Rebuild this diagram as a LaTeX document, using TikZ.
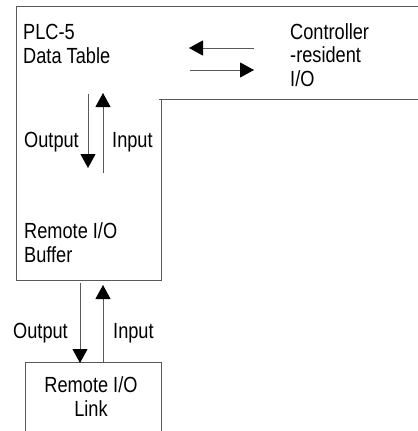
\documentclass[tikz,border=0pt]{standalone}
\usepackage{fontspec}
\setmainfont{Liberation Sans}[FakeStretch=0.83]
\usetikzlibrary{arrows.meta}

\begin{document}
\begin{tikzpicture}[x=1bp,y=-1bp,
  every node/.style={font=\fontsize{22}{23.5}\selectfont,inner sep=0pt,align=left},
  rule/.style={draw=black!65,line width=1bp},
  flow/.style={rule,-{Triangle[length=14bp,width=15bp,color=black]}}]
\useasboundingbox (0,0) rectangle (418,431);
% outline of data table + buffer
\draw[rule] (418,6.5) -- (16,6.5) -- (16,280) -- (161.5,280) -- (161.5,99);
\draw[rule] (159,99) -- (418,99);
% remote i/o link box
\draw[rule] (25,431) -- (25,362) -- (161.5,362) -- (161.5,431);
% texts (base = last line)
\node[anchor=base west] (table) at (23,63) {PLC-5\\Data Table};
\node[anchor=base west] (ctrl) at (290,86) {Controller\\-resident\\I/O};
\node[anchor=base west] (buffer) at (24,262) {Remote I/O\\Buffer};
\node[anchor=base,align=center] (link) at (91,416) {Remote I/O\\Link};
\node[anchor=base east] (out1) at (79,147) {Output};
\node[anchor=base west] (in1) at (112,147) {Input};
\node[anchor=base east] (out2) at (68,338) {Output};
\node[anchor=base west] (in2) at (113,338) {Input};
% arrow ends
\coordinate (ctrlA) at (254,48);
\coordinate (tableA) at (189,48);
\coordinate (tableB) at (190,70);
\coordinate (ctrlB) at (254,70);
\coordinate (tableOut) at (88,94);
\coordinate (bufIn) at (88,168);
\coordinate (bufOut) at (103,173);
\coordinate (tableIn) at (103,93);
\coordinate (bufDown) at (80,283);
\coordinate (linkIn) at (80,363);
\coordinate (linkOut) at (103,362);
\coordinate (bufUp) at (103,285);
% arrows
\draw[flow] (ctrlA) -- (tableA);
\draw[flow] (tableB) -- (ctrlB);
\draw[flow] (tableOut) -- (bufIn);
\draw[flow] (bufOut) -- (tableIn);
\draw[flow] (bufDown) -- (linkIn);
\draw[flow] (linkOut) -- (bufUp);
\end{tikzpicture}
\end{document}
